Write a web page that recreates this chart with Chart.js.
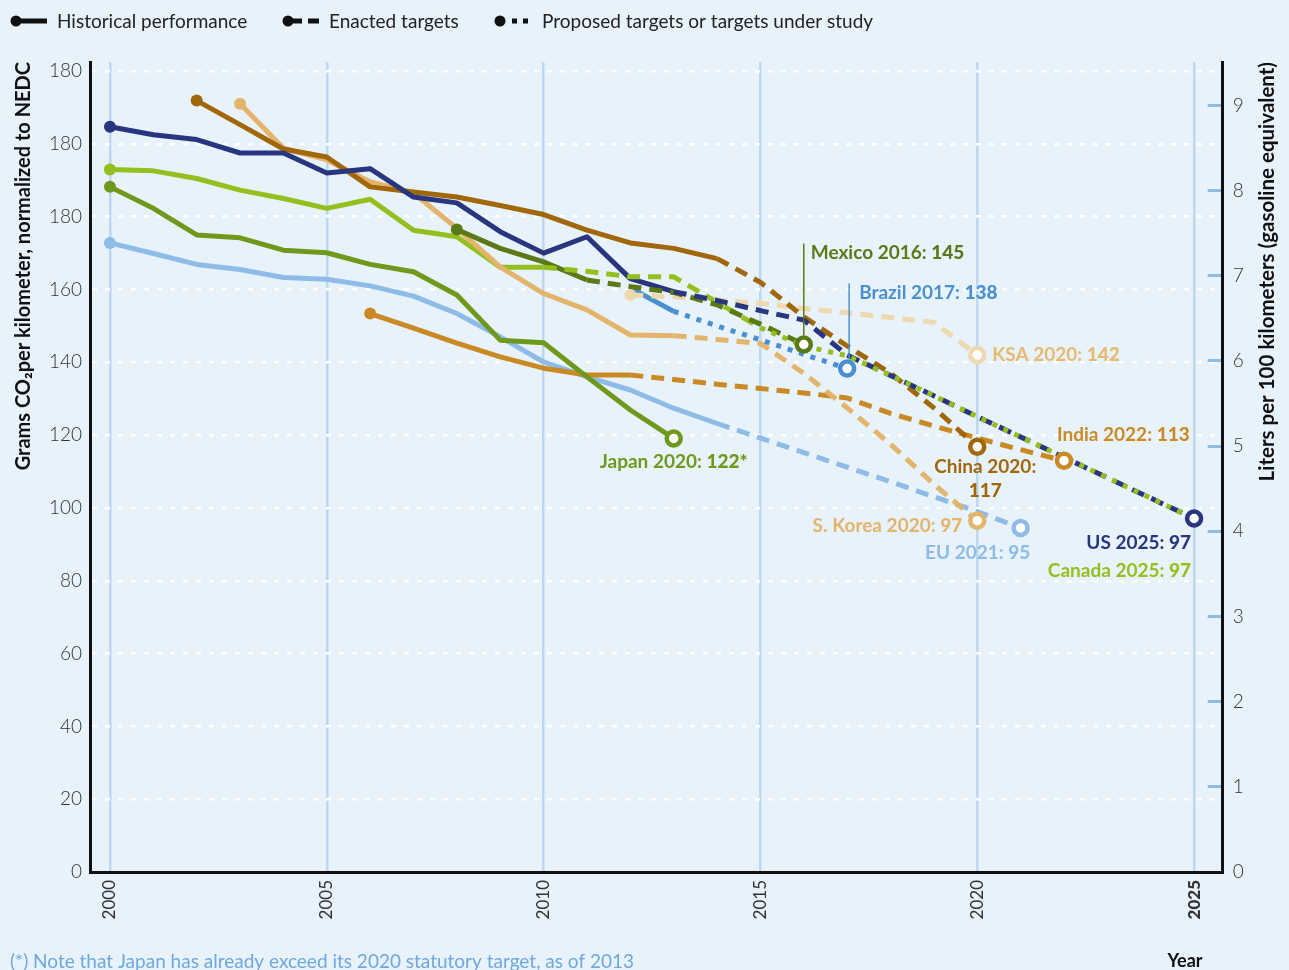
<!DOCTYPE html>
<html>
<head>
<meta charset="utf-8">
<script src="https://cdn.jsdelivr.net/npm/chart.js@4.4.1/dist/chart.umd.min.js"></script>
<style>
html,body{margin:0;padding:0;background:#E8F2FB;}
#wrap{width:1289px;height:970px;position:relative;}
canvas{display:block;}
</style>
</head>
<body>
<div id="wrap"><canvas id="c" width="1289" height="970"></canvas></div>
<script>
// ---------------- DATA ----------------
const xTickYears = [2000, 2005, 2010, 2015, 2020, 2025];
const yTickValues = [0, 20, 40, 60, 80, 100, 120, 140, 160, 180, 200, 220];
const yTickLabels = ['0', '20', '40', '60', '80', '100', '120', '140', '160', '180', '180', '180'];
const y2TickValues = [0, 1, 2, 3, 4, 5, 6, 7, 8, 9];

// grams CO2 per km (NEDC); each series starts at the given year, one value per year
const usHistStart = 2000;
const usHist = [204.7, 202.5, 201.2, 197.5, 197.5, 192.0, 193.2, 185.4, 183.8, 175.9, 170.0, 174.5, 163.0, 159.4];
const usEnactedStart = 2013;
const usEnacted = [159.4, 157.0, 154.2, 151.6, 142.0, 136.4, 130.8, 125.1, 119.5, 113.9, 108.3, 102.7, 97.1];

const canadaHistStart = 2000;
const canadaHist = [193.0, 192.6, 190.5, 187.3, 185.0, 182.3, 184.8, 176.3, 174.5, 166.1, 166.1];
const canadaEnactedStart = 2010;
const canadaEnacted = [166.1, 165.0, 163.5, 163.5, 156.5, 149.5];
const canadaProposedStart = 2015;
const canadaProposed = [149.5, 144.5, 141.8, 136.4, 130.8, 125.1, 119.5, 113.9, 108.3, 102.7, 97.1];

const mexicoHistStart = 2008;
const mexicoHist = [176.5, 171.3, 167.6, 162.6];
const mexicoEnactedStart = 2011;
const mexicoEnacted = [162.6, 160.8, 159.2, 155.8, 150.5, 144.9];

const japanHistStart = 2000;
const japanHist = [188.2, 182.3, 175.0, 174.2, 170.8, 170.1, 166.9, 164.9, 158.5, 146.1, 145.4, 136.0, 126.9, 119.1];

const euHistStart = 2000;
const euHist = [172.8, 169.9, 166.9, 165.5, 163.3, 162.8, 161.0, 158.2, 153.4, 147.0, 140.1, 136.0, 132.4, 127.4, 123.2];
const euEnactedStart = 2014;
const euEnacted = [123.2, 119.2, 115.2, 111.2, 107.2, 103.1, 99.0, 94.5];

const chinaHistStart = 2002;
const chinaHist = [211.9, 205.3, 198.6, 196.4, 188.2, 186.8, 185.4, 183.1, 180.6, 176.3, 172.8, 171.3, 168.5];
const chinaEnactedStart = 2014;
const chinaEnacted = [168.5, 162.0, 152.5, 144.5, 137.0, 127.5, 116.8];

const koreaHistStart = 2003;
const koreaHist = [211.0, 198.8, 195.6, 189.6, 186.5, 176.8, 166.2, 158.9, 154.4, 147.5, 147.3];
const koreaEnactedStart = 2013;
const koreaEnacted = [147.3, 146.3, 145.2, 137.0, 127.5, 117.5, 106.5, 96.5];

const indiaHistStart = 2006;
const indiaHist = [153.4, 149.4, 145.3, 141.5, 138.4, 136.5, 136.5];
const indiaEnactedStart = 2012;
const indiaEnacted = [136.5, 135.3, 134.0, 132.8, 131.6, 130.2, 126.0, 122.5, 119.2, 116.0, 113.0];

const ksaEnactedStart = 2012;
const ksaEnacted = [158.5, 158.0, 157.1, 156.2, 154.8, 153.6, 152.3, 151.0, 142.0];

const brazilHistStart = 2012;
const brazilHist = [160.4, 154.0];
const brazilProposedStart = 2013;
const brazilProposed = [154.0, 150.0, 146.2, 142.2, 138.3];

// target label texts
const labelNames = ['Japan 2020: ', 'Mexico 2016: ', 'Brazil 2017: ', 'KSA 2020: ', 'China 2020:', 'India 2022: ', 'S. Korea 2020: ', 'EU 2021: ', 'US 2025: ', 'Canada 2025: '];
const labelValues = ['122*', '145', '138', '142', '117', '113', '97', '95', '97', '97'];

const legendLabels = ['Historical performance', 'Enacted targets', 'Proposed targets or targets under study'];
const leftTitle = 'Grams CO\u2082per kilometer, normalized to NEDC';
const rightTitle = 'Liters per 100 kilometers (gasoline equivalent)';
const xTitle = 'Year';
const footnote = '(*) Note that Japan has already exceed its 2020 statutory target, as of 2013';

// ---------------- STYLE ----------------
const BG = '#E8F2FB';
const COL = {
  us: '#28367F', canada: '#93BF1F', mexico: '#5A7A17', japan: '#6F991C', eu: '#8FBCE6',
  brazil: '#4A90D0', china: '#A0680A', india: '#C98A25', korea: '#E3B46C', ksa: '#EDD8B0'
};
const FONT = 'Lato, "Noto Sans", sans-serif';

function pts(start, values) { return values.map((v, i) => ({ x: start + i, y: v })); }
function lastPt(start, values) { return { x: start + values.length - 1, y: values[values.length - 1] }; }
function firstPt(start, values) { return { x: start, y: values[0] }; }

function lineDs(label, start, values, color, style) {
  return {
    label, data: pts(start, values), borderColor: color, backgroundColor: color,
    borderWidth: 5,
    borderDash: style === 'dash' ? [13, 8] : style === 'dot' ? [5, 7] : [],
    borderCapStyle: 'butt', borderJoinStyle: style === 'solid' ? 'round' : 'miter',
    pointRadius: 0, pointHoverRadius: 0, tension: 0, fill: false, yAxisID: 'y', xAxisID: 'x'
  };
}

// order: first dataset drawn on top
const lineSets = [
  lineDs('Canada proposed', canadaProposedStart, canadaProposed, COL.canada, 'dot'),
  lineDs('US enacted', usEnactedStart, usEnacted, COL.us, 'dash'),
  lineDs('Mexico enacted', mexicoEnactedStart, mexicoEnacted, COL.mexico, 'dash'),
  lineDs('Brazil proposed', brazilProposedStart, brazilProposed, COL.brazil, 'dot'),
  lineDs('China enacted', chinaEnactedStart, chinaEnacted, COL.china, 'dash'),
  lineDs('KSA enacted', ksaEnactedStart, ksaEnacted, COL.ksa, 'dash'),
  lineDs('S. Korea enacted', koreaEnactedStart, koreaEnacted, COL.korea, 'dash'),
  lineDs('India enacted', indiaEnactedStart, indiaEnacted, COL.india, 'dash'),
  lineDs('EU enacted', euEnactedStart, euEnacted, COL.eu, 'dash'),
  lineDs('Canada enacted', canadaEnactedStart, canadaEnacted, COL.canada, 'dash'),
  lineDs('Brazil', brazilHistStart, brazilHist, COL.brazil, 'solid'),
  lineDs('Mexico', mexicoHistStart, mexicoHist, COL.mexico, 'solid'),
  lineDs('US', usHistStart, usHist, COL.us, 'solid'),
  lineDs('China', chinaHistStart, chinaHist, COL.china, 'solid'),
  lineDs('S. Korea', koreaHistStart, koreaHist, COL.korea, 'solid'),
  lineDs('Canada', canadaHistStart, canadaHist, COL.canada, 'solid'),
  lineDs('Japan', japanHistStart, japanHist, COL.japan, 'solid'),
  lineDs('India', indiaHistStart, indiaHist, COL.india, 'solid'),
  lineDs('EU', euHistStart, euHist, COL.eu, 'solid')
];

const startList = [
  [usHistStart, usHist, COL.us], [canadaHistStart, canadaHist, COL.canada], [japanHistStart, japanHist, COL.japan],
  [euHistStart, euHist, COL.eu], [chinaHistStart, chinaHist, COL.china], [koreaHistStart, koreaHist, COL.korea],
  [indiaHistStart, indiaHist, COL.india], [mexicoHistStart, mexicoHist, COL.mexico], [ksaEnactedStart, ksaEnacted, COL.ksa]
];
const targetList = [
  [japanHistStart, japanHist, COL.japan], [mexicoEnactedStart, mexicoEnacted, COL.mexico],
  [brazilProposedStart, brazilProposed, COL.brazil], [ksaEnactedStart, ksaEnacted, COL.ksa],
  [chinaEnactedStart, chinaEnacted, COL.china], [indiaEnactedStart, indiaEnacted, COL.india],
  [koreaEnactedStart, koreaEnacted, COL.korea], [euEnactedStart, euEnacted, COL.eu],
  [usEnactedStart, usEnacted, COL.us], [canadaProposedStart, canadaProposed, COL.canada]
];

const targetDs = {
  label: 'targets', type: 'line', showLine: false,
  data: targetList.slice(0, 9).map(t => lastPt(t[0], t[1])),
  pointRadius: 7, pointHoverRadius: 7, pointBorderWidth: 4.5,
  pointBackgroundColor: '#FFFFFF', pointBorderColor: targetList.slice(0, 9).map(t => t[2]),
  yAxisID: 'y', xAxisID: 'x'
};
const startDs = {
  label: 'starts', type: 'line', showLine: false,
  data: startList.map(t => firstPt(t[0], t[1])),
  pointRadius: 6, pointHoverRadius: 6, pointBorderWidth: 0,
  pointBackgroundColor: startList.map(t => t[2]), pointBorderColor: startList.map(t => t[2]),
  yAxisID: 'y', xAxisID: 'x'
};

// ---------------- DECORATION PLUGIN ----------------
function partsText(ctx, parts, x, y, align) {
  let total = 0;
  parts.forEach(p => { ctx.font = p[1]; p.w = ctx.measureText(p[0]).width; total += p.w; });
  let cx = align === 'left' ? x : align === 'right' ? x - total : x - total / 2;
  ctx.textAlign = 'left'; ctx.textBaseline = 'middle';
  parts.forEach(p => { ctx.font = p[1]; ctx.fillStyle = p[2]; ctx.fillText(p[0], cx, y); cx += p.w; });
}
const LBL_B = '700 19px ' + FONT;
const LBL_X = '900 19px ' + FONT;

const decor = {
  id: 'decor',
  beforeDraw(chart) {
    const ctx = chart.ctx; ctx.save(); ctx.fillStyle = BG; ctx.fillRect(0, 0, chart.width, chart.height); ctx.restore();
  },
  afterDatasetsDraw(chart) {
    const ctx = chart.ctx, xs = chart.scales.x, ys = chart.scales.y;
    const P = (t) => { const p = lastPt(t[0], t[1]); return { x: xs.getPixelForValue(p.x), y: ys.getPixelForValue(p.y) }; };
    ctx.save();
    const lab = (i, color, x, y, align) => partsText(ctx, [[labelNames[i], LBL_B, color], [labelValues[i], LBL_X, color]], x, y, align);
    // Japan
    let p = P(targetList[0]); lab(0, COL.japan, p.x, p.y + 23, 'center');
    // Mexico with leader
    p = P(targetList[1]);
    ctx.strokeStyle = COL.mexico; ctx.lineWidth = 1.5; ctx.beginPath(); ctx.moveTo(p.x, p.y - 9); ctx.lineTo(p.x, p.y - 101); ctx.stroke();
    lab(1, COL.mexico, p.x + 7, p.y - 92, 'left');
    // Brazil with leader
    p = P(targetList[2]);
    ctx.strokeStyle = COL.brazil; ctx.beginPath(); ctx.moveTo(p.x + 2, p.y - 9); ctx.lineTo(p.x + 2, p.y - 85); ctx.stroke();
    lab(2, COL.brazil, p.x + 12, p.y - 76, 'left');
    // KSA
    p = P(targetList[3]); lab(3, '#E6BA72', p.x + 15, p.y, 'left');
    // China (two lines)
    p = P(targetList[4]);
    partsText(ctx, [[labelNames[4], LBL_B, COL.china]], p.x + 8, p.y + 20, 'center');
    partsText(ctx, [[labelValues[4], LBL_X, COL.china]], p.x + 8, p.y + 44, 'center');
    // India
    p = P(targetList[5]); lab(5, COL.india, p.x - 7, p.y - 26, 'left');
    // S. Korea
    p = P(targetList[6]); lab(6, COL.korea, p.x - 15, p.y + 5, 'right');
    // EU
    p = P(targetList[7]); lab(7, COL.eu, p.x - 43, p.y + 25, 'center');
    // US & Canada
    p = P(targetList[8]); lab(8, COL.us, p.x - 3, p.y + 24, 'right');
    p = P(targetList[9]); lab(9, COL.canada, p.x - 3, p.y + 52, 'right');
    ctx.restore();
  },
  afterDraw(chart) {
    const ctx = chart.ctx;
    ctx.save();
    // legend
    const ly = 21;
    ctx.fillStyle = '#111'; ctx.strokeStyle = '#111';
    // item 1: solid
    ctx.beginPath(); ctx.arc(16, ly, 5.5, 0, Math.PI * 2); ctx.fill();
    ctx.lineWidth = 5; ctx.beginPath(); ctx.moveTo(16, ly); ctx.lineTo(47, ly); ctx.stroke();
    // item 2: dashed
    ctx.beginPath(); ctx.arc(288, ly, 5.5, 0, Math.PI * 2); ctx.fill();
    ctx.fillRect(288, ly - 2.5, 14, 5); ctx.fillRect(308, ly - 2.5, 11, 5);
    // item 3: dotted
    ctx.beginPath(); ctx.arc(500, ly, 5.5, 0, Math.PI * 2); ctx.fill();
    ctx.fillRect(512, ly - 2.5, 5, 5); ctx.fillRect(523, ly - 2.5, 5, 5);
    ctx.font = '400 19px ' + FONT; ctx.textBaseline = 'middle'; ctx.textAlign = 'left'; ctx.fillStyle = '#222';
    ctx.fillText(legendLabels[0], 57, ly + 1);
    ctx.fillText(legendLabels[1], 329, ly + 1);
    ctx.fillText(legendLabels[2], 542, ly + 1);
    // axis titles (rotated, reading bottom-to-top, top aligned)
    const rot = (text, cx, yTop, font) => {
      ctx.save(); ctx.translate(cx, yTop); ctx.rotate(-Math.PI / 2);
      ctx.font = font; ctx.fillStyle = '#111'; ctx.textAlign = 'right'; ctx.textBaseline = 'middle';
      ctx.fillText(text, 0, 0); ctx.restore();
    };
    rot(leftTitle, 24, 62, '700 20px ' + FONT);
    rot(rightTitle, 1267, 62, '700 20.5px ' + FONT);
    // x title
    ctx.font = '700 18px ' + FONT; ctx.fillStyle = '#111'; ctx.textAlign = 'center'; ctx.textBaseline = 'alphabetic';
    ctx.fillText(xTitle, 1185, 967);
    // footnote
    ctx.font = '400 19px ' + FONT; ctx.fillStyle = '#6FA8DC'; ctx.textAlign = 'left';
    ctx.fillText(footnote, 10, 968);
    ctx.restore();
  }
};

// ---------------- CHART ----------------
Chart.defaults.font.family = FONT;
new Chart(document.getElementById('c'), {
  type: 'line',
  data: { datasets: [targetDs, startDs, ...lineSets] },
  options: {
    responsive: false, animation: false, devicePixelRatio: 1,
    layout: { padding: { top: 62, left: 0, right: 0, bottom: 0 } },
    plugins: { legend: { display: false }, tooltip: { enabled: false } },
    events: [],
    scales: {
      x: {
        type: 'linear', position: 'bottom', min: 1999.54, max: 2025.66,
        afterBuildTicks: s => { s.ticks = xTickYears.map(v => ({ value: v })); },
        afterFit: s => { s.height = 98; },
        grid: { color: '#BDD7F0', lineWidth: 2.5, drawTicks: false },
        border: { color: '#111', width: 3 },
        ticks: {
          autoSkip: false, minRotation: 90, maxRotation: 90, padding: 8, color: '#333',
          font: c => ({ family: FONT, size: 17, weight: (c.tick && c.tick.value === 2025) ? '900' : '400' }),
          callback: v => String(v)
        }
      },
      y: {
        type: 'linear', position: 'left', min: 0, max: 222.5,
        afterBuildTicks: s => { s.ticks = yTickValues.map(v => ({ value: v })); },
        afterFit: s => { s.width = 90; },
        grid: { color: '#FFFFFF', lineWidth: 2.5, drawTicks: false },
        border: { color: '#111', width: 3, dash: [5, 8] },
        ticks: { padding: 8, color: '#333', font: { family: FONT, size: 19, weight: '300' }, callback: (v, i) => yTickLabels[i] }
      },
      y2: {
        type: 'linear', position: 'right', min: 0, max: 9.51,
        afterBuildTicks: s => { s.ticks = y2TickValues.map(v => ({ value: v })); },
        afterFit: s => { s.width = 66.3; },
        grid: { drawOnChartArea: false, drawTicks: true, tickLength: -15, color: '#8FBCE6', lineWidth: 3 },
        border: { color: '#111', width: 3 },
        ticks: { padding: 25, color: '#333', font: { family: FONT, size: 19, weight: '300' }, callback: v => String(v) }
      }
    }
  },
  plugins: [decor]
});
</script>
</body>
</html>
